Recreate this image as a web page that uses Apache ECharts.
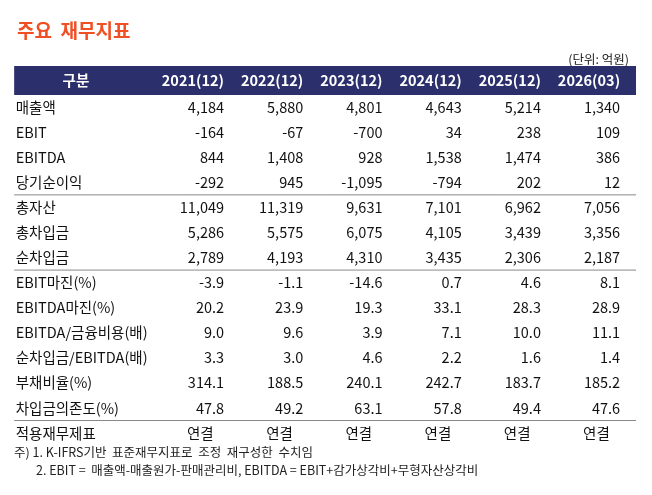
<!DOCTYPE html>
<html>
<head>
<meta charset="utf-8">
<script src="https://cdn.jsdelivr.net/npm/echarts@6/dist/echarts.min.js"></script>
<style>
  html, body { margin: 0; padding: 0; background: #fff; }
  #container { width: 652px; height: 495px; }
</style>
</head>
<body>
<div id="container"></div>
<script>
// table data
let headers = ['2021(12)', '2022(12)', '2023(12)', '2024(12)', '2025(12)', '2026(03)'];
let rowLabels = ['매출액', 'EBIT', 'EBITDA', '당기순이익', '총자산', '총차입금', '순차입금',
  'EBIT마진(%)', 'EBITDA마진(%)', 'EBITDA/금융비용(배)', '순차입금/EBITDA(배)', '부채비율(%)',
  '차입금의존도(%)', '적용재무제표'];
let values = [
  ['4,184', '5,880', '4,801', '4,643', '5,214', '1,340'],
  ['-164', '-67', '-700', '34', '238', '109'],
  ['844', '1,408', '928', '1,538', '1,474', '386'],
  ['-292', '945', '-1,095', '-794', '202', '12'],
  ['11,049', '11,319', '9,631', '7,101', '6,962', '7,056'],
  ['5,286', '5,575', '6,075', '4,105', '3,439', '3,356'],
  ['2,789', '4,193', '4,310', '3,435', '2,306', '2,187'],
  ['-3.9', '-1.1', '-14.6', '0.7', '4.6', '8.1'],
  ['20.2', '23.9', '19.3', '33.1', '28.3', '28.9'],
  ['9.0', '9.6', '3.9', '7.1', '10.0', '11.1'],
  ['3.3', '3.0', '4.6', '2.2', '1.6', '1.4'],
  ['314.1', '188.5', '240.1', '242.7', '183.7', '185.2'],
  ['47.8', '49.2', '63.1', '57.8', '49.4', '47.6'],
  ['연결', '연결', '연결', '연결', '연결', '연결']
];
let separatorsAfter = [4, 7, 13]; // row indices followed by a line

let font = '"Noto Sans CJK KR", "Noto Sans", sans-serif';

// build cells: [col, row, text, kind]
let cells = [];
cells.push([-1.65, -0.64, '', 'bg']);
cells.push([-0.87, -0.06, '구분', 'head']);
headers.forEach((h, i) => cells.push([i + 1, -0.06, h, 'head']));
rowLabels.forEach((r, j) => {
  cells.push([-1.63, j + 1, r, 'label']);
  values[j].forEach((v, i) => {
    cells.push([v === '연결' ? i + 0.7 : i + 1, j + 1, v, v === '연결' ? 'mid' : 'num']);
  });
});
separatorsAfter.forEach((s) => cells.push([-1.65, s + 0.5, '', 'line']));

function renderItem(params, api) {
  let x = api.value(0), y = api.value(1), kind = cells[params.dataIndex][3];
  let text = cells[params.dataIndex][2];
  let p = api.coord([x, y]);
  if (kind === 'bg') {
    let p2 = api.coord([6.2, 0.52]);
    return { type: 'rect', shape: { x: p[0], y: p[1], width: p2[0] - p[0], height: p2[1] - p[1] }, style: { fill: '#2b2f6b' } };
  }
  if (kind === 'line') {
    let p2 = api.coord([6.2, y]);
    return { type: 'line', shape: { x1: p[0], y1: p[1], x2: p2[0], y2: p[1] }, style: { stroke: '#888', lineWidth: 1 } };
  }
  return {
    type: 'text',
    x: p[0], y: p[1],
    style: {
      text: text,
      fill: kind === 'head' ? '#fff' : '#111',
      font: (kind === 'head' ? 'bold ' : '') + '14.5px ' + font,
      align: kind === 'label' ? 'left' : (kind === 'num' || kind === 'head' && x > 0 ? 'right' : 'center'),
      verticalAlign: 'middle'
    }
  };
}

var myChart = echarts.init(document.getElementById('container'));
let option = {
  animation: false,
  title: [
    { text: '주요  재무지표', left: 12, top: 16, textStyle: { color: '#f04e23', fontSize: 19, fontWeight: 'bold', fontFamily: font } },
    { text: '(단위: 억원)', right: 18, top: 48, textStyle: { color: '#222', fontSize: 12.5, fontWeight: 'normal', fontFamily: font } }
  ],
  grid: { left: 14, right: 16, top: 66, height: 379.6 },
  xAxis: { type: 'value', min: -1.652, max: 6.2, show: false },
  yAxis: { type: 'value', min: -0.64, max: 14.5, inverse: true, show: false },
  graphic: [
    { type: 'text', left: 14, top: 446, style: { text: '주) 1. K-IFRS기반  표준재무지표로  조정  재구성한  수치임', fill: '#222', font: '12.5px ' + font } },
    { type: 'text', left: 36, top: 464, style: { text: '2. EBIT =  매출액-매출원가-판매관리비, EBITDA = EBIT+감가상각비+무형자산상각비', fill: '#222', font: '12.5px ' + font } }
  ],
  series: [{
    type: 'custom',
    renderItem: renderItem,
    data: cells.map((c) => [c[0], c[1]]),
    silent: true
  }]
};
myChart.setOption(option);
</script>
</body>
</html>
